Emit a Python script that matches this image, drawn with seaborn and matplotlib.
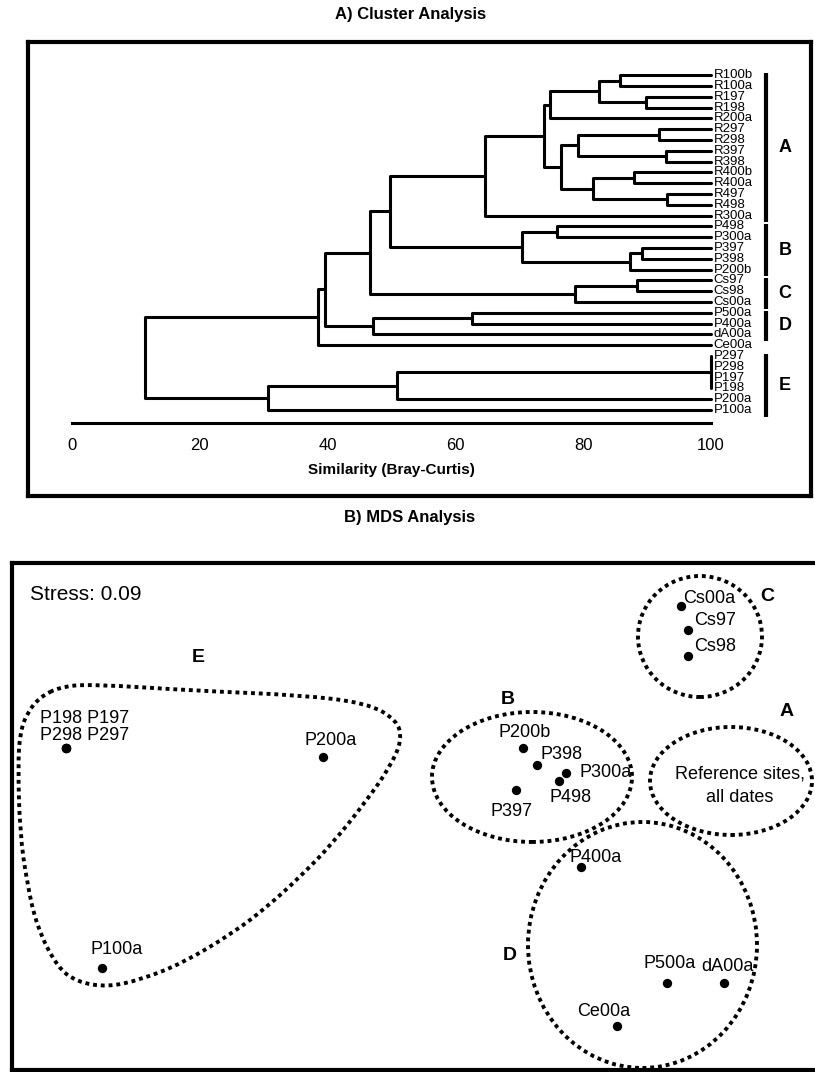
import numpy as np
import pandas as pd
import seaborn as sns
import matplotlib.pyplot as plt
from matplotlib.patches import Ellipse, PathPatch
from matplotlib.path import Path

# Cluster analysis: leaves top to bottom, merges as (left, right, similarity)
leaf_labels = [
    "R100b", "R100a", "R197", "R198", "R200a", "R297", "R298", "R397", "R398",
    "R400b", "R400a", "R497", "R498", "R300a",
    "P498", "P300a", "P397", "P398", "P200b",
    "Cs97", "Cs98", "Cs00a",
    "P500a", "P400a", "dA00a", "Ce00a",
    "P297", "P298", "P197", "P198", "P200a", "P100a",
]
# merge i creates node "m{i}"
merge_left = ["R100b", "R197", "m0", "m2", "R297", "R397", "m4", "R400b", "R497", "m7",
              "m6", "m3", "m11", "P498", "P397", "m14", "m13", "m12", "Cs97", "m18",
              "m17", "P500a", "m21", "m20", "m23", "P297", "P197", "m25", "m27", "m28", "m24"]
merge_right = ["R100a", "R198", "m1", "R200a", "R298", "R398", "m5", "R400a", "R498", "m8",
               "m9", "m10", "R300a", "P300a", "P398", "P200b", "m15", "m16", "Cs98", "Cs00a",
               "m19", "P400a", "dA00a", "m22", "Ce00a", "P298", "P198", "m26", "P200a", "P100a", "m29"]
merge_similarity = [85.8, 89.8, 82.5, 74.8, 91.9, 93.0, 79.2, 88.0, 93.1, 81.5,
                    76.5, 73.9, 64.6, 75.9, 89.2, 87.3, 70.4, 49.8, 88.4, 78.7,
                    46.6, 62.6, 47.1, 39.6, 38.5, 100.0, 100.0, 100.0, 50.8, 30.7, 11.4]

cluster_names = ["A", "B", "C", "D", "E"]
cluster_first = ["R100b", "P498", "Cs97", "P500a", "P297"]
cluster_last = ["R300a", "P200b", "Cs00a", "dA00a", "P100a"]

# MDS ordination
mds_sites = ["P198", "P197", "P298", "P297", "P200a", "P100a", "Cs00a", "Cs97", "Cs98",
             "P200b", "P398", "P300a", "P498", "P397", "P400a", "P500a", "dA00a", "Ce00a"]
mds_axis1 = [-1.745, -1.745, -1.745, -1.745, -0.46, -1.565, 1.33, 1.365, 1.365,
             0.54, 0.61, 0.755, 0.72, 0.505, 0.83, 1.26, 1.545, 1.01]
mds_axis2 = [0.335, 0.335, 0.335, 0.335, 0.29, -0.765, 1.045, 0.925, 0.795,
             0.335, 0.25, 0.21, 0.17, 0.125, -0.26, -0.84, -0.84, -1.055]
stress = 0.09


def draw_dendrogram(ax):
    """Draws the similarity dendrogram with leaves on the right."""
    node_x = {name: 100.0 for name in leaf_labels}
    node_y = {name: i for i, name in enumerate(leaf_labels)}
    for i, (a, b, s) in enumerate(zip(merge_left, merge_right, merge_similarity)):
        ya, yb = node_y[a], node_y[b]
        ax.plot([node_x[a], s, s, node_x[b]], [ya, ya, yb, yb],
                color="black", lw=2.2, clip_on=False)
        node_x[f"m{i}"] = s
        node_y[f"m{i}"] = (ya + yb) / 2

    for name, y in zip(leaf_labels, range(len(leaf_labels))):
        ax.text(100.4, y, name, ha="left", va="center", fontsize=9.5, clip_on=False)

    for name, first, last in zip(cluster_names, cluster_first, cluster_last):
        y0 = leaf_labels.index(first) - 0.2
        y1 = leaf_labels.index(last) + 0.6
        ax.plot([108.6, 108.6], [y0, y1], color="black", lw=3, solid_capstyle="butt", clip_on=False)
        ax.text(111.6, (y0 + y1) / 2, name, ha="center", va="center",
                fontsize=13, fontweight="bold", clip_on=False)

    ax.set_xlim(0, 100)
    ax.set_ylim(32.2, -1)
    ax.set_yticks([])
    ax.set_xticks([0, 20, 40, 60, 80, 100])
    for side in ["left", "right", "top"]:
        ax.spines[side].set_visible(False)
    ax.spines["bottom"].set_bounds(0, 100)
    ax.spines["bottom"].set_linewidth(2.2)
    ax.spines["bottom"].set_color("black")
    ax.tick_params(axis="x", direction="inout", length=6, width=2, labelsize=12, pad=8, colors="black")
    ax.set_xlabel("Similarity (Bray-Curtis)", fontsize=11, fontweight="bold", labelpad=7)


def draw_mds(ax):
    """Draws the MDS ordination with the cluster envelopes."""
    df = pd.DataFrame({"site": mds_sites, "axis1": mds_axis1, "axis2": mds_axis2})
    sns.scatterplot(data=df, x="axis1", y="axis2", color="black", s=45, linewidth=0, ax=ax, zorder=3)

    # four identical sites share one point and a stacked label
    stacked = ["P198", "P197", "P298", "P297"]
    offsets = {
        "P200a": (8, 16, "center"), "P100a": (15, 18, "center"),
        "Cs00a": (2, 8, "left"), "Cs97": (6, 10, "left"), "Cs98": (6, 10, "left"),
        "P200b": (2, 15, "center"), "P398": (4, 10, "left"), "P300a": (14, 0, "left"),
        "P498": (-9, -17, "left"), "P397": (-4, -22, "center"), "P400a": (15, 9, "center"),
        "P500a": (3, 19, "center"), "dA00a": (3, 16, "center"), "Ce00a": (-13, 14, "center"),
    }
    for _, row in df.iterrows():
        if row.site in stacked:
            if row.site != stacked[0]:
                continue
            text = f"{stacked[0]} {stacked[1]}\n{stacked[2]} {stacked[3]}"
            dx, dy, ha = -26, 21, "left"
        else:
            text = row.site
            dx, dy, ha = offsets[row.site]
        ax.annotate(text, (row.axis1, row.axis2), xytext=(dx, dy), textcoords="offset pixels",
                    ha=ha, va="center", fontsize=13, linespacing=1.0)

    dotted = dict(fill=False, edgecolor="black", lw=2.8, linestyle=(0, (1, 1)))
    ax.add_patch(Ellipse((1.425, 0.8925), 0.62, 0.605, **dotted))
    ax.add_patch(Ellipse((0.585, 0.19), 1.0, 0.65, **dotted))
    ax.add_patch(Ellipse((1.58, 0.17), 0.81, 0.54, **dotted))
    ax.add_patch(Ellipse((1.1375, -0.65), 1.145, 1.23, **dotted))

    # free-hand envelope around group E (closed quadratic spline)
    e_outline = np.array([
        (-1.775, 0.64), (-1.625, 0.655), (-1.075, 0.62), (-0.575, 0.60), (-0.24, 0.56),
        (-0.09, 0.475), (-0.065, 0.375), (-0.125, 0.24), (-0.24, 0.075), (-0.41, -0.14),
        (-0.575, -0.31), (-0.74, -0.46), (-0.91, -0.59), (-1.16, -0.74), (-1.375, -0.825),
        (-1.54, -0.86), (-1.69, -0.835), (-1.79, -0.76), (-1.89, -0.56), (-1.94, -0.34),
        (-1.975, -0.09), (-1.985, 0.24), (-1.975, 0.41), (-1.94, 0.51), (-1.875, 0.59),
    ])
    mids = (e_outline + np.roll(e_outline, -1, axis=0)) / 2
    verts = [mids[-1]]
    codes = [Path.MOVETO]
    for p, m in zip(e_outline, mids):
        verts += [p, m]
        codes += [Path.CURVE3, Path.CURVE3]
    ax.add_patch(PathPatch(Path(verts, codes), **dotted))

    ax.text(1.625, 0.145, "Reference sites,\nall dates", ha="center", va="center",
            fontsize=13, linespacing=1.5)
    letter_pos = {"E": (-1.085, 0.79), "B": (0.465, 0.58), "A": (1.86, 0.515),
                  "C": (1.76, 1.095), "D": (0.475, -0.705)}
    for name, (x, y) in letter_pos.items():
        ax.text(x, y, name, ha="center", va="center", fontsize=14, fontweight="bold")
    ax.text(0.022, 0.937, f"Stress: {stress:.2f}", transform=ax.transAxes,
            ha="left", va="center", fontsize=15)

    ax.set_xlim(-2.015, 2.075)
    ax.set_ylim(-1.275, 1.26)
    ax.set_xticks([])
    ax.set_yticks([])
    ax.set_xlabel("")
    ax.set_ylabel("")
    for sp in ax.spines.values():
        sp.set_linewidth(3)
        sp.set_color("black")


def main():
    sns.set_theme(style="white")
    plt.rcParams["font.family"] = ["Liberation Sans", "DejaVu Sans"]
    plt.rcParams["text.color"] = "black"
    plt.rcParams["axes.labelcolor"] = "black"

    fig = plt.figure(figsize=(8.15, 10.72), dpi=100)

    box_a = fig.add_axes([0.0344, 0.5373, 0.9607, 0.4235])
    box_a.set_xticks([])
    box_a.set_yticks([])
    for sp in box_a.spines.values():
        sp.set_linewidth(3)
        sp.set_color("black")

    dendro_ax = fig.add_axes([0.0883, 0.6054, 0.7840, 0.3345])
    dendro_ax.patch.set_alpha(0)
    draw_dendrogram(dendro_ax)

    mds_ax = fig.add_axes([0.0147, 0.0019, 1.0037, 0.4729])
    draw_mds(mds_ax)

    fig.text(0.504, 1 - 15 / 1072, "A) Cluster Analysis", ha="center", va="center",
             fontsize=12, fontweight="bold")
    fig.text(0.503, 1 - 518 / 1072, "B) MDS Analysis", ha="center", va="center",
             fontsize=12, fontweight="bold")

    plt.savefig("out.png", dpi=100)
    plt.close()


if __name__ == "__main__":
    main()
